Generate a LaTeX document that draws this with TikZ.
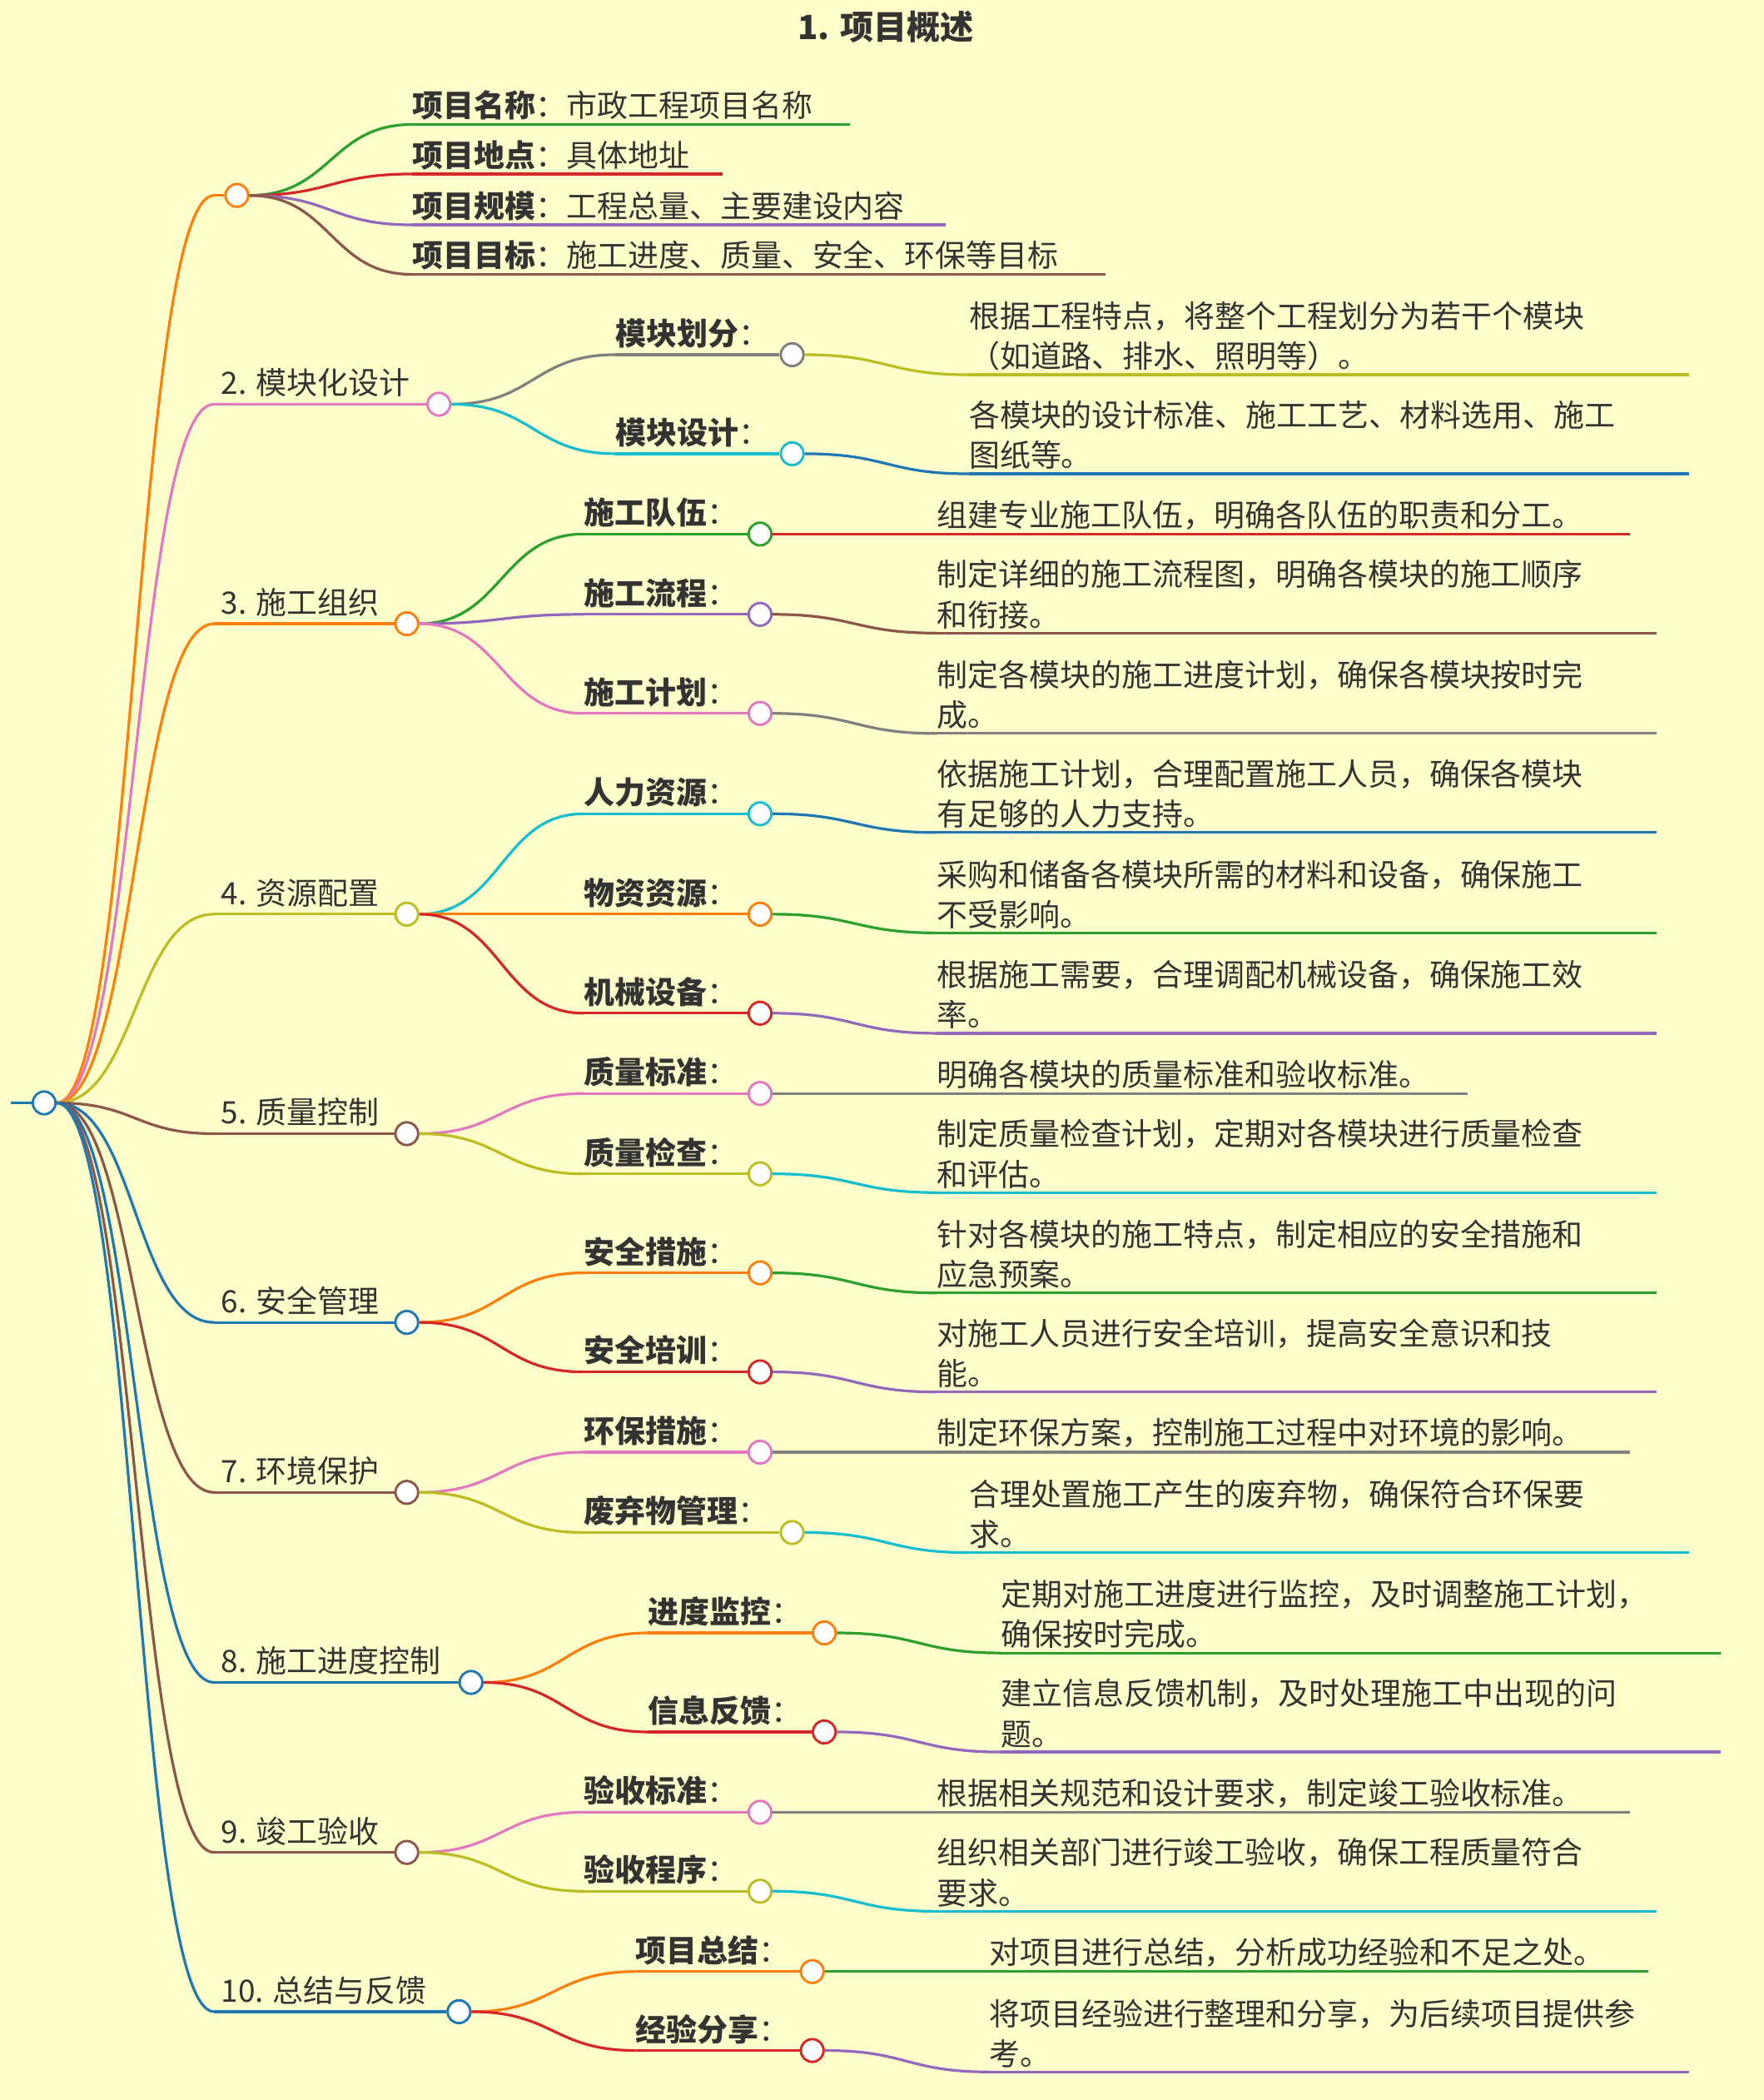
\documentclass[tikz,border=0pt]{standalone}
\usepackage{fontspec}
\setmainfont{Noto Sans CJK SC}
\usetikzlibrary{calc}
\definecolor{bg}{HTML}{FFFFCC}
\definecolor{txt}{HTML}{333333}
\definecolor{cO}{HTML}{FF7F0E}
\definecolor{cG}{HTML}{2CA02C}
\definecolor{cR}{HTML}{D62728}
\definecolor{cP}{HTML}{9467BD}
\definecolor{cB}{HTML}{8C564B}
\definecolor{cK}{HTML}{E377C2}
\definecolor{cY}{HTML}{7F7F7F}
\definecolor{cL}{HTML}{BCBD22}
\definecolor{cC}{HTML}{17BECF}
\definecolor{cU}{HTML}{1F77B4}
\newcommand\fs{\fontsize{23}{30}\selectfont}
\tikzset{dot/.style={circle,draw,fill=white,line width=1.8pt,minimum size=17pt,inner sep=0pt},
 ln/.style={line width=2pt},
 tx/.style={anchor=west,inner sep=0pt,text=txt,font=\fs},
 lf/.style={anchor=south west,inner sep=0pt,text=txt,font=\fs,align=left}}
\newcommand\cv[3]{\draw[ln,#1] let \p1=(#2), \p2=(#3) in (\p1) .. controls ({(\x1+\x2)/2},\y1) and ({(\x1+\x2)/2},\y2) .. (\p2);}
% level1: name color y circlex text
\newcommand\Lone[5]{\coordinate (#1s) at (160,#3);
 \node[dot,draw=#2] (#1) at (#4,#3) {};
 \cv{#2}{r.east}{#1s}\draw[ln,#2] (#1s) -- (#1.west);
 \node[tx] at (165,#3-16) {#5};}
% level2: name parent color startx y circlex key
\newcommand\Ltwo[7]{\coordinate (#1s) at (#4,#5);
 \node[dot,draw=#3] (#1) at (#6,#5) {};
 \cv{#3}{#2.east}{#1s}\draw[ln,#3] (#1s) -- (#1.west);
 \node[tx] at (#4,#5-16) {\textbf{#7}：};}
% leaf: name parent color startx y endx text
\newcommand\Leaf[7]{\coordinate (#1s) at (#4,#5);\coordinate (#1e) at (#6,#5);
 \cv{#3}{#2.east}{#1s}\draw[ln,#3] (#1s) -- (#1e);
 \node[lf] at (#4,#5-3) {#7};}
\begin{document}
\begin{tikzpicture}[x=1pt,y=-1pt]
\fill[bg] (0,0) rectangle (1318,1569);
\useasboundingbox (0,0) rectangle (1318,1569);
\node[text=txt,font=\fontsize{25}{30}\selectfont\bfseries] (title) at (662,20) {1. 项目概述};
\node[dot,draw=cU] (r) at (33,824) {};
\coordinate (r0) at (8,824);
\draw[ln,cU] (r0) -- (r.west);
% 1
\Lone{a}{cO}{146}{177}{}
\Leaf{a1}{a}{cG}{308}{93}{635}{\textbf{项目名称}：市政工程项目名称}
\Leaf{a2}{a}{cR}{308}{130}{540}{\textbf{项目地点}：具体地址}
\Leaf{a3}{a}{cP}{308}{168}{707}{\textbf{项目规模}：工程总量、主要建设内容}
\Leaf{a4}{a}{cB}{308}{205}{826}{\textbf{项目目标}：施工进度、质量、安全、环保等目标}
% 2
\Lone{b}{cK}{302}{328}{2. 模块化设计}
\Ltwo{b1}{b}{cY}{460}{265}{592}{模块划分}
\Leaf{b1l}{b1}{cL}{724}{280}{1262}{根据工程特点，将整个工程划分为若干个模块\\（如道路、排水、照明等）。}
\Ltwo{b2}{b}{cC}{460}{339}{592}{模块设计}
\Leaf{b2l}{b2}{cU}{724}{354}{1262}{各模块的设计标准、施工工艺、材料选用、施工\\图纸等。}
% 3
\Lone{c}{cO}{466}{304}{3. 施工组织}
\Ltwo{c1}{c}{cG}{436}{399}{568}{施工队伍}
\Leaf{c1l}{c1}{cR}{700}{399}{1218}{组建专业施工队伍，明确各队伍的职责和分工。}
\Ltwo{c2}{c}{cP}{436}{459}{568}{施工流程}
\Leaf{c2l}{c2}{cB}{700}{473}{1238}{制定详细的施工流程图，明确各模块的施工顺序\\和衔接。}
\Ltwo{c3}{c}{cK}{436}{533}{568}{施工计划}
\Leaf{c3l}{c3}{cY}{700}{548}{1238}{制定各模块的施工进度计划，确保各模块按时完\\成。}
% 4
\Lone{d}{cL}{683}{304}{4. 资源配置}
\Ltwo{d1}{d}{cC}{436}{608}{568}{人力资源}
\Leaf{d1l}{d1}{cU}{700}{622}{1238}{依据施工计划，合理配置施工人员，确保各模块\\有足够的人力支持。}
\Ltwo{d2}{d}{cO}{436}{683}{568}{物资资源}
\Leaf{d2l}{d2}{cG}{700}{697}{1238}{采购和储备各模块所需的材料和设备，确保施工\\不受影响。}
\Ltwo{d3}{d}{cR}{436}{757}{568}{机械设备}
\Leaf{d3l}{d3}{cP}{700}{772}{1238}{根据施工需要，合理调配机械设备，确保施工效\\率。}
% 5
\Lone{e}{cB}{847}{304}{5. 质量控制}
\Ltwo{e1}{e}{cK}{436}{817}{568}{质量标准}
\Leaf{e1l}{e1}{cY}{700}{817}{1097}{明确各模块的质量标准和验收标准。}
\Ltwo{e2}{e}{cL}{436}{877}{568}{质量检查}
\Leaf{e2l}{e2}{cC}{700}{891}{1238}{制定质量检查计划，定期对各模块进行质量检查\\和评估。}
% 6
\Lone{f}{cU}{988}{304}{6. 安全管理}
\Ltwo{f1}{f}{cO}{436}{951}{568}{安全措施}
\Leaf{f1l}{f1}{cG}{700}{966}{1238}{针对各模块的施工特点，制定相应的安全措施和\\应急预案。}
\Ltwo{f2}{f}{cR}{436}{1025}{568}{安全培训}
\Leaf{f2l}{f2}{cP}{700}{1040}{1238}{对施工人员进行安全培训，提高安全意识和技\\能。}
% 7
\Lone{g}{cB}{1115}{304}{7. 环境保护}
\Ltwo{g1}{g}{cK}{436}{1085}{568}{环保措施}
\Leaf{g1l}{g1}{cY}{700}{1085}{1218}{制定环保方案，控制施工过程中对环境的影响。}
\Ltwo{g2}{g}{cL}{436}{1145}{592}{废弃物管理}
\Leaf{g2l}{g2}{cC}{724}{1160}{1262}{合理处置施工产生的废弃物，确保符合环保要\\求。}
% 8
\Lone{h}{cU}{1257}{352}{8. 施工进度控制}
\Ltwo{h1}{h}{cO}{484}{1220}{616}{进度监控}
\Leaf{h1l}{h1}{cG}{748}{1235}{1286}{定期对施工进度进行监控，及时调整施工计划，\\确保按时完成。}
\Ltwo{h2}{h}{cR}{484}{1294}{616}{信息反馈}
\Leaf{h2l}{h2}{cP}{748}{1309}{1286}{建立信息反馈机制，及时处理施工中出现的问\\题。}
% 9
\Lone{i}{cB}{1384}{304}{9. 竣工验收}
\Ltwo{i1}{i}{cK}{436}{1354}{568}{验收标准}
\Leaf{i1l}{i1}{cY}{700}{1354}{1218}{根据相关规范和设计要求，制定竣工验收标准。}
\Ltwo{i2}{i}{cL}{436}{1413}{568}{验收程序}
\Leaf{i2l}{i2}{cC}{700}{1428}{1238}{组织相关部门进行竣工验收，确保工程质量符合\\要求。}
% 10
\Lone{j}{cU}{1503}{343}{10. 总结与反馈}
\Ltwo{j1}{j}{cO}{475}{1473}{607}{项目总结}
\Leaf{j1l}{j1}{cG}{739}{1473}{1232}{对项目进行总结，分析成功经验和不足之处。}
\Ltwo{j2}{j}{cR}{475}{1532}{607}{经验分享}
\Leaf{j2l}{j2}{cP}{739}{1548}{1262}{将项目经验进行整理和分享，为后续项目提供参\\考。}
\end{tikzpicture}
\end{document}
